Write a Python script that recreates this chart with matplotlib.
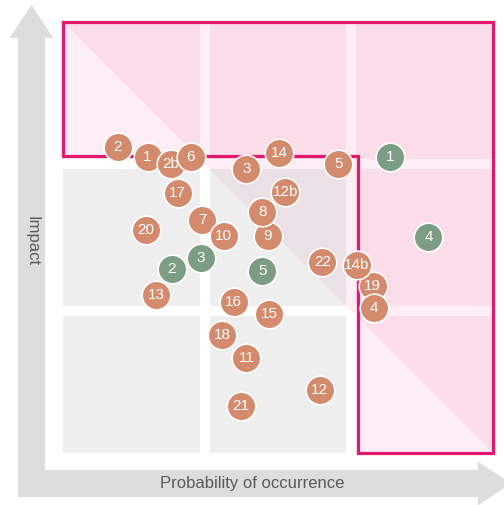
import matplotlib
matplotlib.use("Agg")
import matplotlib.pyplot as plt
from matplotlib.patches import Rectangle, Polygon

plt.rcParams["font.family"] = ["Liberation Sans", "DejaVu Sans"]

# threats (orange): label, probability, impact  (grid runs 0..3 on both axes)
threat_labels = ["2", "1", "2b", "6", "17", "20", "7", "10", "3", "14", "12b", "9", "8",
                 "5", "22", "19", "14b", "4", "13", "16", "15", "18", "11", "21", "12"]
threat_prob = [0.38, 0.59, 0.75, 0.89, 0.80, 0.58, 0.97, 1.12, 1.28, 1.51, 1.55, 1.43, 1.39,
               1.92, 1.81, 2.16, 2.05, 2.17, 0.65, 1.19, 1.44, 1.11, 1.28, 1.24, 1.79]
threat_impact = [2.13, 2.06, 2.01, 2.06, 1.81, 1.55, 1.62, 1.51, 1.98, 2.09, 1.82, 1.51, 1.68,
                 2.01, 1.33, 1.16, 1.31, 1.01, 1.10, 1.05, 0.97, 0.82, 0.66, 0.33, 0.44]

# opportunities (green)
opp_labels = ["1", "4", "3", "2", "5"]
opp_prob = [2.28, 2.55, 0.96, 0.76, 1.39]
opp_impact = [2.06, 1.50, 1.36, 1.28, 1.27]

ORANGE = "#d48a6c"
GREEN = "#7c9c83"
MAGENTA = "#e5186e"
PINK = "#fadde8"
LIGHT_PINK = "#fdeef5"
GREY = "#eeeeee"
GREY_TINT = "#ebe0e5"
ARROW = "#dcdddd"
TEXT = "#5a5a5a"

cell = 0.953
starts = [0.0, 1.0235, 2.047]

fig = plt.figure(figsize=(5.04, 5.05), dpi=100)
ax = fig.add_axes([0, 0, 1, 1])
ax.set_xlim(-0.44, 3.077)
ax.set_ylim(-0.362, 3.153)
ax.axis("off")

# upper-right half of the matrix gets a pink tint (covers gaps too)
upper = [(0, 3), (3, 3), (3, 0)]
ax.add_patch(Polygon(upper, closed=True, facecolor=LIGHT_PINK, edgecolor="none", zorder=1))

for r, y0 in enumerate(starts):
    for c, x0 in enumerate(starts):
        pink = (r == 2) or (c == 2)
        rect = Rectangle((x0, y0), cell, cell, facecolor=LIGHT_PINK if pink else GREY,
                         edgecolor="none", zorder=2)
        ax.add_patch(rect)
        tri = Polygon(upper, closed=True, facecolor=PINK if pink else GREY_TINT,
                      edgecolor="none", zorder=3)
        ax.add_patch(tri)
        tri.set_clip_path(rect)

# outline of the high-risk zone
ox = [0, 3, 3, 2.06, 2.06, 0, 0]
oy = [3, 3, 0, 0, 2.07, 2.07, 3]
ax.plot(ox, oy, color=MAGENTA, lw=2.3, solid_joinstyle="miter", zorder=4)

# axis arrows
arrow = [(-0.314, -0.306), (2.895, -0.306), (2.895, -0.365), (3.125, -0.212),
         (2.895, -0.059), (2.895, -0.118), (-0.126, -0.118), (-0.126, 2.889),
         (-0.068, 2.889), (-0.22, 3.118), (-0.374, 2.889), (-0.314, 2.889)]
ax.add_patch(Polygon(arrow, closed=True, facecolor=ARROW, edgecolor="none", zorder=1))
ax.text(-0.22, 1.476, "Impact", rotation=-90, ha="center", va="center",
        fontsize=12, color=TEXT, zorder=5)
ax.text(1.319, -0.209, "Probability of occurrence", ha="center", va="center",
        fontsize=12, color=TEXT, zorder=5)

z = 10
for labels, xs, ys, col in [(threat_labels, threat_prob, threat_impact, ORANGE),
                            (opp_labels, opp_prob, opp_impact, GREEN)]:
    for lab, x, y in zip(labels, xs, ys):
        ax.scatter(x, y, s=425, color=col, edgecolor="white", linewidth=1.2, zorder=z)
        ax.text(x, y, lab, ha="center", va="center", color="white", fontsize=11, zorder=z + 1)
        z += 2

fig.savefig("out.png", dpi=100)
